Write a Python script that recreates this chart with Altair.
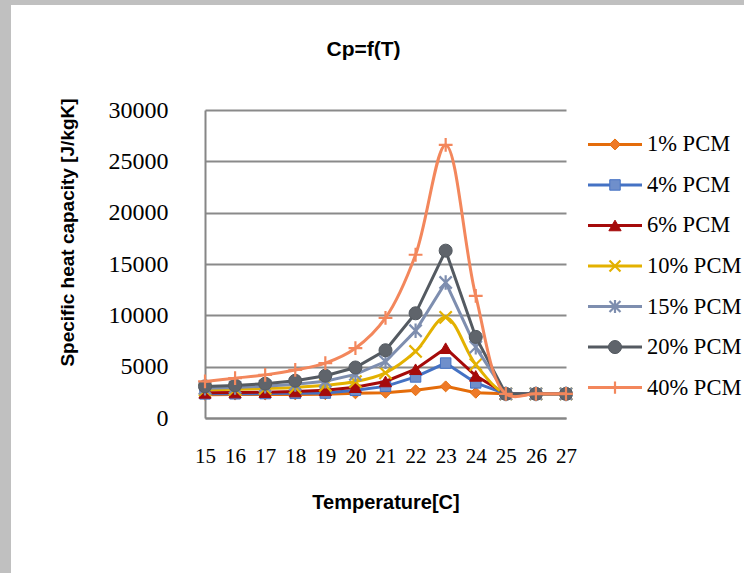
import altair as alt
import pandas as pd

# ---------------- data ----------------
temps = list(range(15, 28))
series_names = ["1% PCM", "4% PCM", "6% PCM", "10% PCM", "15% PCM", "20% PCM", "40% PCM"]
cp_1 = [2270, 2280, 2290, 2300, 2320, 2400, 2460, 2700, 3080, 2460, 2350, 2350, 2350]
cp_4 = [2350, 2360, 2380, 2400, 2430, 2700, 3080, 4000, 5350, 3420, 2350, 2350, 2350]
cp_6 = [2450, 2480, 2520, 2580, 2700, 3000, 3560, 4750, 6800, 4100, 2350, 2350, 2350]
cp_10 = [2750, 2800, 2880, 2980, 3180, 3550, 4400, 6480, 9800, 5200, 2350, 2350, 2350]
cp_15 = [2900, 2980, 3100, 3280, 3580, 4250, 5500, 8500, 13200, 6900, 2350, 2350, 2350]
cp_20 = [3080, 3170, 3340, 3630, 4120, 4920, 6600, 10200, 16300, 7900, 2350, 2350, 2350]
cp_40 = [3560, 3880, 4200, 4680, 5350, 6800, 9750, 15900, 26600, 11900, 2350, 2350, 2350]
y_ticks = [0, 5000, 10000, 15000, 20000, 25000, 30000]

all_values = [cp_1, cp_4, cp_6, cp_10, cp_15, cp_20, cp_40]
rows = []
for name, vals in zip(series_names, all_values):
    for t, v in zip(temps, vals):
        rows.append({"T": t, "series": name, "Cp": v})
df = pd.DataFrame(rows)
legend_df = pd.DataFrame({"series": series_names})

# ---------------- styles ----------------
line_colors = ["#E46C0A", "#4472C4", "#A50A0A", "#E3B100", "#7E8EAF", "#545A61", "#F3875C"]
fill_colors = ["#EE7A28", "#6F8FCB", "#A50A0A", None, None, "#5F646B", None]
shapes = [
    "diamond",
    "square",
    "triangle-up",
    "M-1,-1L1,1M-1,1L1,-1",
    "M-1,-1L1,1M-1,1L1,-1M0,-1.2L0,1.2",
    "circle",
    "M-1,0L1,0M0,-1L0,1",
]
sizes = [120, 110, 150, 150, 150, 170, 190]
smooth = [False, False, False, True, False, False, True]

W, H = 361, 308
PAD = {"left": 205, "top": 110, "right": 178, "bottom": 155}

x_enc = alt.X(
    "T:Q",
    scale=alt.Scale(domain=[15, 27], nice=False, zero=False),
    axis=alt.Axis(
        values=temps, title="Temperature[C]", grid=False, ticks=False,
        domainColor="#868686", domainWidth=2,
        labelFont="Liberation Serif", labelFontSize=21, labelColor="#000000",
        labelPadding=27, labelFlush=False,
        titleFont="Liberation Sans", titleFontSize=20, titleFontWeight="bold",
        titleColor="#000000", titleY=74,
    ),
)
y_enc = alt.Y(
    "Cp:Q",
    scale=alt.Scale(domain=[0, 30000], nice=False),
    axis=alt.Axis(
        values=y_ticks, format="d", title="Specific heat capacity [J/kgK]", grid=True,
        gridColor="#8A8A8A", gridWidth=2, ticks=False,
        domainColor="#868686", domainWidth=2,
        labelFont="Liberation Serif", labelFontSize=24, labelColor="#000000",
        labelPadding=37,
        titleFont="Liberation Sans", titleFontSize=19, titleFontWeight="bold",
        titleColor="#000000", titleX=-128, titleY=122,
    ),
)

base = alt.Chart(df)
main_layers = []
for i, name in enumerate(series_names):
    filt = alt.datum.series == name
    line = base.transform_filter(filt).mark_line(
        color=line_colors[i], strokeWidth=3,
        interpolate="catmull-rom" if smooth[i] else "linear",
    ).encode(x=x_enc, y=y_enc)
    if fill_colors[i] is not None:
        pt = base.transform_filter(filt).mark_point(
            shape=shapes[i], filled=True, fill=fill_colors[i], stroke=line_colors[i],
            strokeWidth=1, size=sizes[i], opacity=1,
        ).encode(x=x_enc, y=y_enc)
    else:
        pt = base.transform_filter(filt).mark_point(
            shape=shapes[i], filled=False, stroke=line_colors[i],
            strokeWidth=2.2, size=sizes[i], opacity=1,
        ).encode(x=x_enc, y=y_enc)
    main_layers += [line, pt]
main = alt.layer(*main_layers)

# legend (custom, lines through markers)
leg_y = alt.Y("series:N", scale=alt.Scale(type="point", domain=series_names, padding=0.8),
              axis=None)
lbase = alt.Chart(legend_df)
leg_layers = []
for i, name in enumerate(series_names):
    filt = alt.datum.series == name
    leg_layers.append(lbase.transform_filter(filt).mark_rule(
        color=line_colors[i], strokeWidth=3).encode(
        x=alt.value(383), x2=alt.value(437), y=leg_y, yOffset=alt.value(2)))
    if fill_colors[i] is not None:
        leg_layers.append(lbase.transform_filter(filt).mark_point(
            shape=shapes[i], filled=True, fill=fill_colors[i], stroke=line_colors[i],
            strokeWidth=1, size=sizes[i], opacity=1).encode(
            x=alt.value(410), y=leg_y, yOffset=alt.value(2)))
    else:
        leg_layers.append(lbase.transform_filter(filt).mark_point(
            shape=shapes[i], filled=False, stroke=line_colors[i],
            strokeWidth=2.2, size=sizes[i] * 0.8, opacity=1).encode(
            x=alt.value(410), y=leg_y, yOffset=alt.value(2)))
leg_layers.append(lbase.mark_text(
    align="left", baseline="middle", font="Liberation Serif", fontSize=22.5,
    color="#000000").encode(
    x=alt.value(442), y=leg_y, yOffset=alt.value(2), text="series:N"))
legend = alt.layer(*leg_layers)

# gray frame on top and left edges
frame_df = pd.DataFrame({"k": [0]})
top_band = alt.Chart(frame_df).mark_rect(color="#C0C0C0").encode(
    x=alt.value(-PAD["left"]), x2=alt.value(W + PAD["right"]),
    y=alt.value(-PAD["top"]), y2=alt.value(-PAD["top"] + 5))
left_band = alt.Chart(frame_df).mark_rect(color="#C0C0C0").encode(
    x=alt.value(-PAD["left"]), x2=alt.value(-PAD["left"] + 11),
    y=alt.value(-PAD["top"]), y2=alt.value(H + PAD["bottom"]))

chart = alt.layer(top_band, left_band, main, legend).resolve_scale(y="independent").properties(
    width=W, height=H,
    autosize=alt.AutoSizeParams(type="none"),
    padding=PAD,
    background="#FFFFFF",
    title=alt.TitleParams(
        "Cp=f(T)", font="Liberation Sans", fontSize=21, fontWeight="bold",
        color="#000000", anchor="middle", frame="group", dx=-22,
        baseline="alphabetic", offset=-77,
    ),
).configure_view(stroke=None)

chart.save("out.html", embed_options={"renderer": "svg", "actions": False})
